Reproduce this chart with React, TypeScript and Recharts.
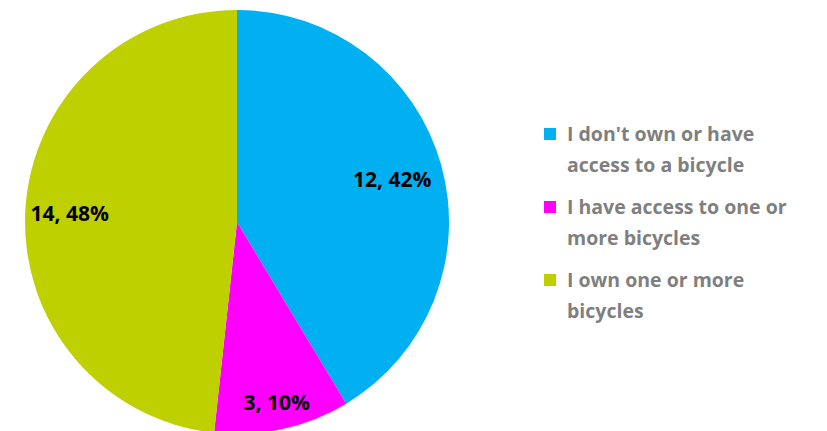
import { Cell, Legend, Pie, PieChart } from "recharts";

// Bicycle ownership survey
const categories = [
  "I don't own or have access to a bicycle",
  "I have access to one or more bicycles",
  "I own one or more bicycles",
];
const counts = [12, 3, 14];
const percentLabels = ["42%", "10%", "48%"];
const legendLines = [
  ["I don't own or have", "access to a bicycle"],
  ["I have access to one or", "more bicycles"],
  ["I own one or more", "bicycles"],
];
const colors = ["#00b0f0", "#ff00ff", "#bfd000"];

const data = categories.map((name, i) => ({
  name,
  value: counts[i],
  label: `${counts[i]}, ${percentLabels[i]}`,
}));

const RADIAN = Math.PI / 180;
const labelRadius = [0.76, 0.87, 0.79];

const renderLabel = (props: any) => {
  const { cx, cy, midAngle, outerRadius, index } = props;
  const r = outerRadius * labelRadius[index];
  const x = cx + r * Math.cos(-midAngle * RADIAN);
  const y = cy + r * Math.sin(-midAngle * RADIAN);
  return (
    <text
      x={x}
      y={y}
      fill="#000"
      textAnchor="middle"
      dominantBaseline="central"
      fontSize={21}
      fontWeight="bold"
      fontFamily="'Open Sans', sans-serif"
    >
      {data[index].label}
    </text>
  );
};

const renderLegend = () => (
  <div
    style={{
      fontFamily: "'Open Sans', sans-serif",
      fontWeight: "bold",
      fontSize: 19.5,
      color: "#7f7f7f",
    }}
  >
    {legendLines.map((lines, i) => (
      <div key={i} style={{ display: "flex", alignItems: "flex-start", marginBottom: 11 }}>
        <span
          style={{
            width: 12,
            height: 12,
            background: colors[i],
            marginTop: 10,
            marginRight: 11,
            flexShrink: 0,
          }}
        />
        <div style={{ lineHeight: "31px" }}>
          {lines.map((l, j) => (
            <div key={j}>{l}</div>
          ))}
        </div>
      </div>
    ))}
  </div>
);

export default function App() {
  return (
    <div style={{ position: "absolute", left: 0, top: 0, background: "#fff" }}>
      <PieChart width={827} height={431} margin={{ top: 0, right: 0, bottom: 0, left: 0 }}>
        <Pie
          data={data}
          dataKey="value"
          nameKey="name"
          cx={237}
          cy={222}
          outerRadius={212}
          startAngle={90}
          endAngle={-270}
          stroke="none"
          label={renderLabel}
          labelLine={false}
          isAnimationActive={false}
        >
          {data.map((d, i) => (
            <Cell key={d.name} fill={colors[i]} />
          ))}
        </Pie>
        <Legend
          content={renderLegend}
          wrapperStyle={{ left: 544, top: 118, width: 283 }}
        />
      </PieChart>
    </div>
  );
}
